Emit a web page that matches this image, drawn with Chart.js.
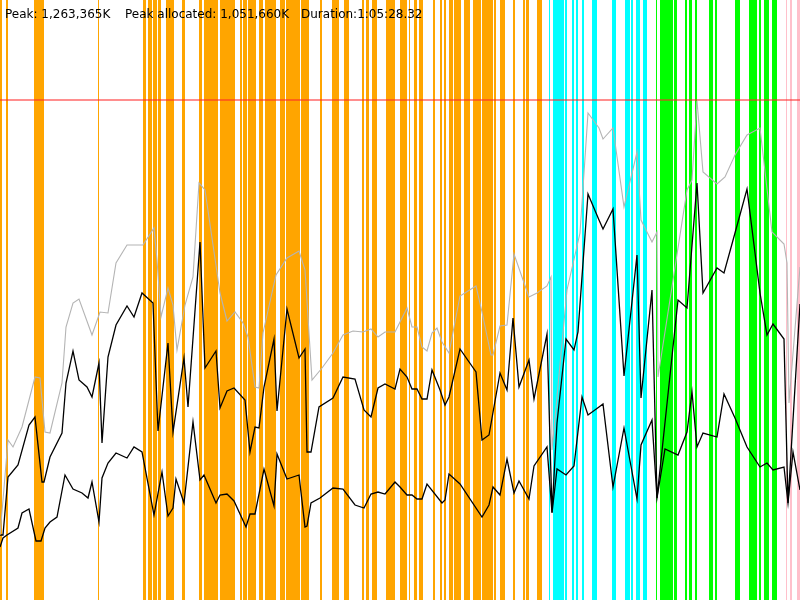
<!DOCTYPE html>
<html>
<head>
<meta charset="utf-8">
<script src="https://cdn.jsdelivr.net/npm/chart.js@4"></script>
<style>
    body { margin: 0; background: #fff; }
    #box { width: 800px; height: 600px; }
</style>
</head>
<body>
<div id="box"><canvas id="memChart"></canvas></div>
<script>
// time axis runs 0..800 over the whole run, memory is in percent of peak
const peakText = 'Peak: 1,263,365K';
const allocText = 'Peak allocated: 1,051,660K';
const durationText = 'Duration:1:05:28.32';
const peakLevel = 100;

const committedT = [0, 3, 8, 13, 22, 35, 40, 45, 50, 62, 66, 73, 79, 92, 100, 108, 116, 127, 143, 154, 157, 161, 168, 173, 177, 185, 193, 199,
    205, 220, 227, 235, 243, 248, 255, 259, 263, 276, 287, 299, 305, 312, 322, 333, 343, 353, 363, 371, 378, 385, 395,
    400, 407, 412, 417, 422, 427, 432, 437, 442, 449, 460, 476, 482, 491, 493, 500, 507, 514, 522, 529, 537, 547, 551, 552, 567, 580, 588, 599,
    603, 613, 624, 637, 641, 652, 657, 658, 687, 692, 697, 703, 717, 725, 735, 747, 760, 772, 784, 787, 789, 800];
const committedV = [13, 20, 32, 30.6, 34.6, 44.6, 44.4, 33.6, 33.4, 43.4, 54.6, 59.4, 60.2, 53, 57.6, 57.4, 67.4, 71, 71, 74.4, 68, 56.6, 62.4, 59, 50, 59, 64.6, 83.4,
    82, 61.4, 55.8, 57.6, 55.4, 52.6, 42.6, 42.4, 53.4, 65, 68.4, 69.8, 66, 44, 46.4, 49.4, 53, 53.8, 53.6, 54.2, 52.6, 53.6, 53.6,
    55.6, 58.4, 54.6, 54.6, 50.6, 49.8, 53.4, 54.4, 51.6, 49.4, 60.8, 62.8, 57.6, 49, 49, 54.8, 55, 69.2, 64.6, 60.6, 61.4, 62.8, 64.6, 30, 62, 73.4, 97.4, 94.4,
    92.2, 94.4, 78.6, 89.6, 76, 71.6, 73.6, 44.6, 82, 84, 99.8, 85.6, 83.2, 84.6, 89, 93, 94.4, 73.6, 71.2, 67.4, 39.4, 66.6];

const usedT = [0, 3, 8, 18, 29, 35, 42, 44, 50, 62, 66, 73, 79, 87, 92, 99, 102, 108, 116, 127, 134, 142, 153, 158, 168, 173, 184, 188, 200,
    205, 216, 220, 227, 234, 245, 250, 255, 259, 264, 274, 277, 287, 299, 305, 307, 311, 319, 333, 343, 355, 364, 371, 378, 385, 395,
    400, 407, 412, 417, 422, 427, 432, 440, 445, 449, 460, 476, 482, 489, 500, 507, 513, 519, 529, 534, 547, 552, 557, 566, 574, 578, 588, 599,
    603, 613, 624, 637, 641, 652, 657, 678, 687, 697, 703, 717, 724, 735, 747, 760, 767, 773, 784, 788, 800];
const usedV = [13, 13, 24.6, 27, 35, 36.6, 23.6, 23.6, 28.6, 33.4, 43.4, 49.8, 44, 42.6, 40.6, 47.4, 31.4, 48.6, 55, 58.8, 56.6, 61.4, 59.4, 33.8, 51.4, 33.6, 48.4, 38.6, 71.6,
    46.4, 49.8, 38.4, 41.8, 42.4, 40, 29.6, 34.6, 34.4, 42.6, 52.2, 37.8, 58.2, 48.4, 50.2, 29.6, 29.6, 38.6, 40.4, 44.6, 44.2, 38, 36.6, 42.4, 43.2, 42.2,
    46.2, 44.6, 42.2, 42.2, 40.2, 40.2, 46, 42, 39, 40.6, 50.2, 45.6, 32, 33, 45.4, 42, 56.4, 42.6, 48, 40.2, 53.2, 17.6, 35.4, 52.2, 50, 53.6, 81.2, 76,
    74.2, 78.2, 44.8, 69, 40.4, 62, 20.4, 60, 58.4, 83.4, 61.4, 66.4, 65.4, 73.4, 82.2, 61.4, 53, 55.2, 52.2, 19.4, 59.2];

const allocatedT = [0, 3, 7, 18, 22, 29, 36, 41, 45, 50, 57, 65, 73, 82, 88, 92, 99, 102, 108, 116, 127, 134, 142, 154, 162, 168, 173, 176, 184, 193, 200,
    204, 216, 220, 227, 234, 246, 250, 255, 264, 274, 277, 287, 299, 305, 307, 311, 320, 333, 343, 355, 364, 371, 378, 385, 395,
    400, 407, 412, 417, 422, 427, 442, 445, 449, 460, 482, 489, 493, 500, 507, 514, 519, 529, 534, 547, 552, 557, 566, 574, 582, 588, 599,
    603, 613, 624, 637, 641, 652, 657, 665, 678, 687, 692, 697, 703, 717, 724, 735, 747, 760, 767, 773, 784, 788, 793, 800];
const allocatedV = [10.6, 12.4, 13, 14.4, 17.4, 18.2, 11.8, 11.8, 14.4, 15.6, 16.6, 25, 22.2, 21.4, 20.4, 23.6, 15.6, 24.4, 27.4, 29.4, 28.4, 30.6, 29.6, 17, 25.6, 16.8, 18.4, 24.2, 19.4, 35.6, 24,
    25, 19.4, 21, 21.2, 19.8, 14.6, 17.2, 17.2, 26.2, 18.8, 29.2, 24.2, 25, 14.6, 14.8, 19.4, 20.4, 22.4, 22.2, 19, 18.4, 21.2, 21.6, 21.2, 23.6,
    22.6, 21, 21, 20.2, 20.2, 23.2, 19.4, 20, 25.2, 23.2, 16.6, 19, 22.6, 21, 28.2, 21.4, 23.8, 20.2, 26.8, 30.6, 17.4, 26.2, 25, 26.8, 40.6, 37, 38.6,
    39.2, 22.6, 34.4, 20.2, 31, 36, 20.4, 30.2, 29, 33.6, 41.6, 30.6, 33.4, 32.6, 41.2, 36.4, 30.6, 26.6, 27.4, 26, 26.6, 19.4, 29.6, 22];

// event bands on the time axis, [start, end]
const orangeBands = [[0, 2], [6, 8], [34, 44], [98, 99], [143, 146], [148, 152], [153, 157], [158, 161], [166, 174], [182, 185],
    [199, 202], [204, 218], [220, 235], [240, 242], [243, 247], [248, 256], [259, 263], [265, 276], [280, 285], [286, 300], [301, 309],
    [320, 322], [332, 339], [344, 349], [362, 364], [366, 369], [372, 377], [386, 395], [400, 407], [409, 410], [414, 417], [419, 423],
    [433, 435], [440, 442], [444, 446], [449, 453], [454, 461], [464, 470], [473, 481], [482, 493], [494, 496], [500, 505], [513, 515],
    [523, 525], [526, 529], [537, 542]];
const cyanBands = [[549, 550], [553, 564], [565, 567], [572, 574], [576, 578], [582, 584], [592, 597], [612, 616], [625, 630],
    [631, 633], [636, 640], [643, 647]];
const greenBands = [[656, 657], [660, 673], [674, 677], [685, 687], [689, 692], [695, 697], [709, 713], [715, 717], [735, 740],
    [749, 757], [759, 761], [764, 769], [772, 777]];
const pinkBands = [[786, 787], [790, 792], [797, 800]];

function zip(ts, vs) {
    return ts.map((t, i) => ({ x: t, y: vs[i] }));
}

const bandPlugin = {
    id: 'bands',
    beforeDatasetsDraw(chart) {
        const c = chart.ctx;
        const xs = chart.scales.x;
        const area = chart.chartArea;
        const groups = [[orangeBands, '#ffa500'], [cyanBands, '#00ffff'], [greenBands, '#00ff00'], [pinkBands, '#ffc0cb']];
        c.save();
        groups.forEach(([bands, color]) => {
            c.fillStyle = color;
            bands.forEach(([a, b]) => {
                const x0 = xs.getPixelForValue(a);
                const x1 = xs.getPixelForValue(b);
                c.fillRect(x0, area.top, Math.max(x1 - x0, 1), area.bottom - area.top);
            });
        });
        c.restore();
    }
};

const headerPlugin = {
    id: 'header',
    afterDraw(chart) {
        const c = chart.ctx;
        c.save();
        c.fillStyle = '#000';
        c.font = '12px "DejaVu Sans"';
        c.textBaseline = 'alphabetic';
        c.fillText(peakText, 5, 18);
        c.fillText(allocText, 125, 18);
        c.fillText(durationText, 301, 18);
        c.restore();
    }
};

const memCtx = document.getElementById('memChart').getContext('2d');
const memChart = new Chart(memCtx, {
    type: 'scatter',
    data: {
        datasets: [{
            label: 'Committed',
            data: zip(committedT, committedV),
            showLine: true,
            borderColor: '#b4b4b4',
            borderWidth: 1.1,
            pointRadius: 0
        }, {
            label: 'Used',
            data: zip(usedT, usedV),
            showLine: true,
            borderColor: '#000',
            borderWidth: 1.3,
            pointRadius: 0
        }, {
            label: 'Allocated',
            data: zip(allocatedT, allocatedV),
            showLine: true,
            borderColor: '#000',
            borderWidth: 1.3,
            pointRadius: 0
        }, {
            label: 'Peak',
            data: [{ x: 0, y: peakLevel }, { x: 800, y: peakLevel }],
            showLine: true,
            borderColor: 'rgba(255, 40, 40, 0.7)',
            borderWidth: 1.5,
            pointRadius: 0
        }]
    },
    options: {
        responsive: true,
        maintainAspectRatio: false,
        animation: false,
        layout: { padding: 0 },
        plugins: {
            legend: { display: false },
            tooltip: { enabled: false }
        },
        scales: {
            x: { type: 'linear', min: 0, max: 800, display: false },
            y: { min: 0, max: 120, display: false }
        }
    },
    plugins: [bandPlugin, headerPlugin]
});
</script>
</body>
</html>
